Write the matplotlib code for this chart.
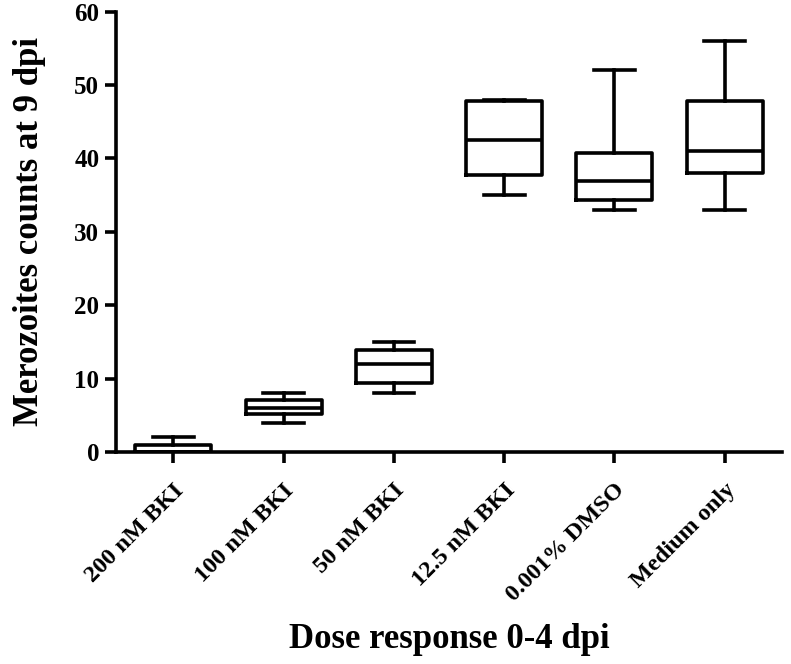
import matplotlib
matplotlib.use("Agg")
import matplotlib.pyplot as plt

# Datos (cuartiles y bigotes)
groups = ["200 nM BKI", "100 nM BKI", "50 nM BKI", "12.5 nM BKI", "0.001% DMSO", "Medium only"]
whis_lo = [0, 4, 8, 35, 33, 33]
q1 = [0, 5.2, 9.4, 37.8, 34.3, 38]
median = [0, 6, 12, 42.5, 37, 41]
q3 = [1, 7.1, 13.9, 47.8, 40.8, 47.8]
whis_hi = [2, 8, 15, 48, 52, 56]

plt.rcParams["font.family"] = ["Liberation Serif", "DejaVu Serif"]
plt.rcParams["font.weight"] = "bold"

stats = []
for i, g in enumerate(groups):
    stats.append({"label": g, "whislo": whis_lo[i], "q1": q1[i], "med": median[i],
                  "q3": q3[i], "whishi": whis_hi[i], "fliers": []})

fig = plt.figure(figsize=(7.91, 6.64), dpi=100)
ax = fig.add_axes([0.1467, 0.3193, 0.842, 0.663])

lw = 2.6
ax.bxp(stats, widths=0.69, showfliers=False,
       boxprops=dict(color="black", linewidth=lw),
       whiskerprops=dict(color="black", linewidth=lw),
       capprops=dict(color="black", linewidth=lw),
       medianprops=dict(color="black", linewidth=lw),
       capwidths=0.37)

ax.set_xlim(0.48, 6.52)
ax.set_ylim(0, 60)
ax.set_yticks(range(0, 61, 10))
ax.spines["top"].set_visible(False)
ax.spines["right"].set_visible(False)
ax.spines["left"].set_linewidth(lw)
ax.spines["bottom"].set_linewidth(lw)
ax.tick_params(axis="both", width=lw, length=8, direction="out")
ax.tick_params(axis="y", labelsize=18, pad=4)
ax.tick_params(axis="x", pad=12)
ax.set_xticklabels(groups, rotation=45, ha="right", rotation_mode="anchor", fontsize=17.5)

ax.set_ylabel("Merozoites counts at 9 dpi", fontsize=25, fontweight="bold", labelpad=20)
ax.set_xlabel("Dose response 0-4 dpi", fontsize=25, fontweight="bold", labelpad=12)

fig.savefig("out.png", dpi=100)
